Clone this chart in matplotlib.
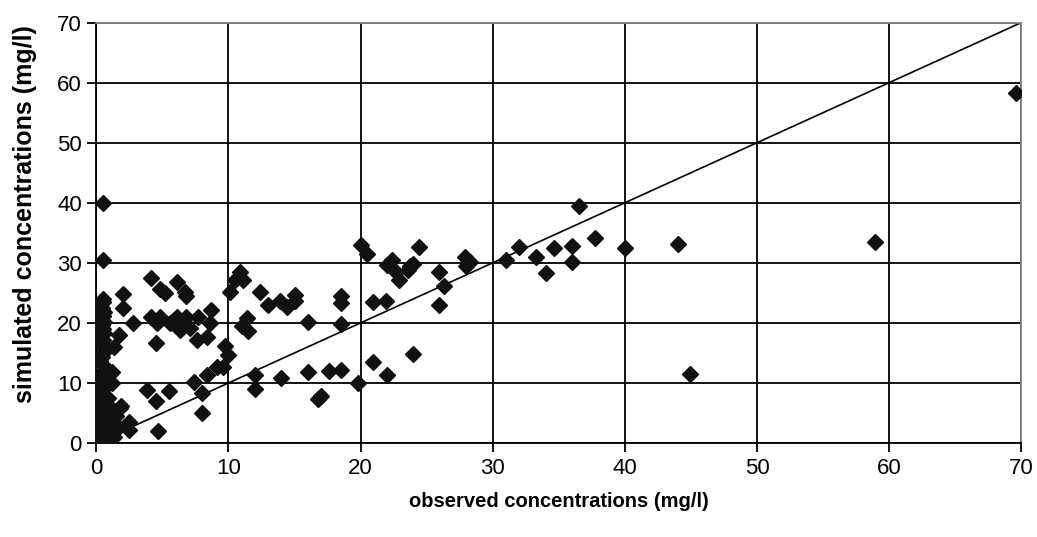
import matplotlib
matplotlib.use('Agg')
import matplotlib.pyplot as plt

# observed (x) and simulated (y) concentrations, mg/l
obs_far = [69.6, 58.9, 44.9, 44.0, 40.0, 37.7, 36.5, 36.0, 36.0, 34.6, 34.0, 33.3, 32.0, 31.0,
           27.9, 28.0, 28.3, 26.3, 25.9, 25.9, 24.4, 24.0, 23.7, 23.6, 22.9, 22.7, 22.4, 22.0,
           20.5, 20.0, 20.9, 21.9, 18.5, 18.5, 18.5, 16.0, 15.0, 15.0, 14.4, 13.9, 13.0, 12.4,
           24.0, 20.9, 22.0, 19.8, 18.5, 17.6, 17.0, 16.8, 16.0, 14.0, 12.0, 12.0]
sim_far = [58.3, 33.5, 11.5, 33.2, 32.5, 34.2, 39.5, 32.8, 30.2, 32.4, 28.3, 31.0, 32.7, 30.5,
           31.0, 29.5, 30.2, 26.2, 28.4, 22.9, 32.7, 29.8, 29.4, 28.8, 27.2, 28.4, 30.4, 29.7,
           31.5, 33.0, 23.4, 23.7, 24.4, 23.3, 19.8, 20.2, 24.6, 23.6, 22.7, 23.7, 23.0, 25.2,
           14.9, 13.5, 11.4, 10.0, 12.1, 12.0, 7.8, 7.4, 11.9, 10.8, 11.3, 9.0]

obs_mid = [11.1, 10.9, 10.5, 10.1, 11.4, 11.0, 11.5, 9.7, 10.0, 9.6, 9.1, 8.4, 7.4, 8.0, 8.0,
           7.6, 8.4, 8.7, 8.6, 7.7, 7.1, 6.3, 5.6, 6.8, 6.1, 4.8, 4.1, 4.6, 5.9, 6.5, 2.8, 4.1,
           6.1, 4.8, 5.2, 6.7, 6.8, 2.0, 2.0, 4.5, 3.8, 5.5, 4.5, 4.7, 2.5, 2.5, 1.9, 1.2, 1.2,
           1.7, 1.3, 0.5, 0.5, 0.5]
sim_mid = [27.2, 28.5, 27.2, 25.2, 20.8, 19.4, 18.6, 16.2, 14.6, 12.7, 12.7, 11.3, 10.1, 8.4, 5.0,
           17.2, 17.7, 22.2, 20.0, 21.0, 19.1, 18.8, 20.0, 21.0, 21.0, 21.0, 21.0, 20.0, 20.5, 19.5,
           19.9, 27.5, 26.8, 25.6, 25.0, 25.2, 24.4, 24.8, 22.4, 16.6, 8.8, 8.7, 7.0, 2.0, 3.5, 2.2,
           6.1, 11.9, 10.0, 18.0, 16.0, 24.0, 40.0, 30.5]

# dense cluster near the origin
obs_near = [0.5, 0.4, 0.6, 0.5, 0.3, 0.6, 0.4, 0.5, 0.6, 0.3, 0.5, 0.4, 0.6, 0.5, 0.4, 0.3, 0.5,
            0.6, 0.4, 0.5, 0.3, 0.6, 0.5, 0.4, 0.5, 0.6, 0.3, 0.5, 0.4, 0.6, 0.5, 0.3, 0.4, 0.5,
            0.6, 0.2, 0.1, 0.0, 0.2, 0.1, 1.0, 1.0, 1.2, 1.4, 0.9, 1.1, 1.5, 1.8, 1.3, 0.8, 0.7,
            1.0, 0.2, 0.9, 1.6, 0.7, 0.3, 0.8]
sim_near = [23.5, 22.5, 21.8, 21.2, 20.6, 20.2, 19.6, 19.0, 18.4, 17.8, 17.2, 16.5, 15.8, 15.0,
            14.4, 13.7, 13.0, 12.2, 11.6, 11.0, 10.4, 9.8, 9.0, 8.2, 7.5, 6.8, 6.1, 5.4, 4.8,
            4.2, 3.6, 3.0, 2.4, 1.8, 1.2, 0.6, 2.8, 0.3, 1.4, 0.9, 11.5, 4.2, 3.0, 2.0, 1.2,
            5.5, 4.5, 5.8, 1.0, 2.5, 3.3, 0.5, 0.2, 7.5, 2.8, 1.8, 2.0, 6.5]

obs = obs_far + obs_mid + obs_near
sim = sim_far + sim_mid + sim_near

plt.rcParams['font.family'] = ['Liberation Sans', 'DejaVu Sans']

fig = plt.figure(figsize=(10.37, 5.37), dpi=100)
ax = fig.add_axes([0.0929, 0.175, 0.892, 0.783])

ax.plot([0, 70], [0, 70], color='black', lw=1.2, zorder=2)
ax.plot(obs, sim, ls='none', marker='D', ms=8, color='#111111', mec='#111111', zorder=3)

ax.set_xlim(0, 70)
ax.set_ylim(0, 70)
ax.set_xticks(range(0, 71, 10))
ax.set_yticks(range(0, 71, 10))
ax.grid(True, color='black', lw=1.3)
ax.set_axisbelow(True)
ax.tick_params(direction='out', length=6.5, width=1.3, labelsize=16, pad=4)
for s in ['left', 'bottom']:
    ax.spines[s].set_linewidth(1.3)
for s in ['top', 'right']:
    ax.spines[s].set_color('#808080')
    ax.spines[s].set_linewidth(1.3)

ax.set_xlabel('observed concentrations (mg/l)', fontsize=14.5, fontweight='bold', labelpad=10)
ax.set_ylabel('simulated concentrations (mg/l)', fontsize=18, fontweight='bold')
ax.yaxis.set_label_coords(-0.064, 0.545)

fig.savefig('out.png', dpi=100)
